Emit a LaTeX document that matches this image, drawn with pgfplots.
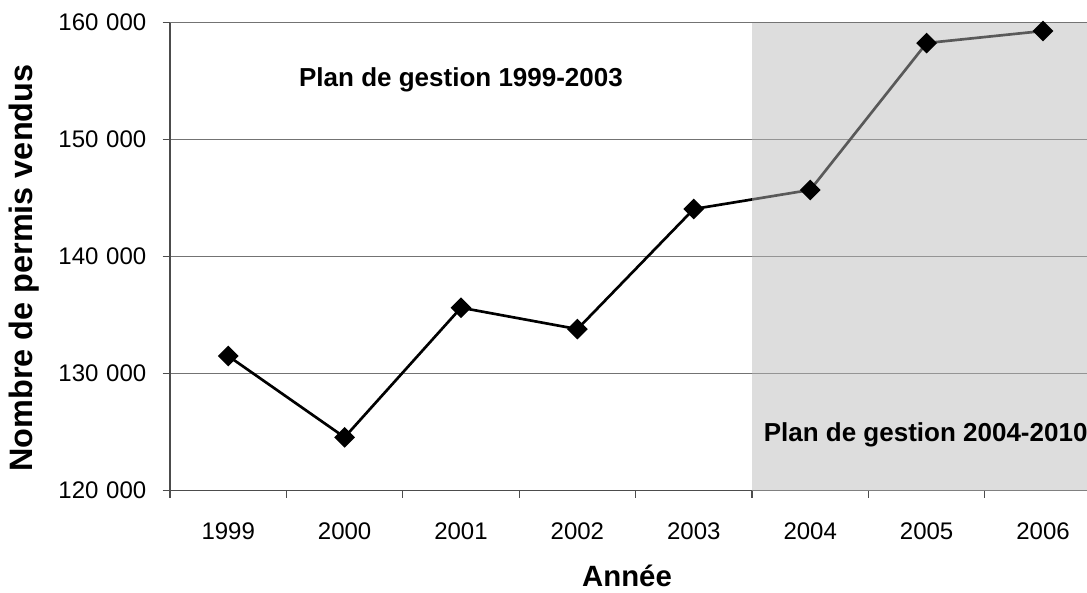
\documentclass[border=0pt]{standalone}
\usepackage{fontspec}
\setmainfont{Liberation Sans}
\usepackage{pgfplots}
\pgfplotsset{compat=1.18}
\newcommand{\tlf}{\fontsize{18pt}{22pt}\selectfont}
\newcommand{\ts}{\hspace{0.32em}}
\begin{document}
\begin{tikzpicture}
\useasboundingbox (-127.5pt,-76.125pt) rectangle (687.75pt,367.875pt);
\clip (-127.5pt,-76.125pt) rectangle (687.75pt,367.875pt);
\begin{axis}[
  at={(0pt,0pt)}, anchor=south west,
  scale only axis, width=687.75pt, height=350.85pt,
  xmin=-0.5, xmax=7.378, ymin=120000, ymax=160000,
  enlargelimits=false, scaled y ticks=false,
  axis x line=bottom, axis y line=left,
  axis line style={-, black!70, line width=1pt},
  xtick={-0.5,0.5,1.5,2.5,3.5,4.5,5.5,6.5},
  xticklabels={},
  extra x ticks={0,1,2,3,4,5,6,7},
  extra x tick labels={1999,2000,2001,2002,2003,2004,2005,2006},
  extra x tick style={grid=none, tick style={draw=none}},
  ytick={120000,130000,140000,150000,160000},
  yticklabels={120\ts000,130\ts000,140\ts000,150\ts000,160\ts000},
  tick align=outside, major tick length=5.6pt,
  tick style={black!70, line width=0.8pt},
  ymajorgrids, grid style={black!55, line width=0.75pt},
  yticklabel style={anchor=east, inner sep=0pt, xshift=-12pt, font=\tlf},
  xticklabel style={anchor=base, inner sep=0pt, yshift=-31.5pt, font=\tlf},
  xlabel={Année},
  ylabel={Nombre de permis vendus},
  xlabel style={at={(axis description cs:0.4984,-0.2056)}, anchor=base, inner sep=0pt, font=\bfseries\fontsize{22pt}{26pt}\selectfont},
  ylabel style={at={(axis description cs:-0.1494,0.4756)}, anchor=base, inner sep=0pt, font=\bfseries\fontsize{24.3pt}{28pt}\selectfont},
]
\addplot[black, line width=2pt, mark=square*, mark size=4.5pt, mark options={rotate=45, solid}] coordinates {
  (0,131500) (1,124550) (2,135630) (3,133800) (4,144070) (5,145700) (6,158260) (7,159290)
};
\fill[black!27.5, fill opacity=0.483] (axis cs:4.5,120000) rectangle (axis cs:7.378,160000);
\node[anchor=base, inner sep=0pt, font=\bfseries\fontsize{19.5pt}{23pt}\selectfont] at (axis cs:2,154530) {Plan de gestion 1999-2003};
\node[anchor=base west, inner sep=0pt, font=\bfseries\fontsize{19.5pt}{23pt}\selectfont] at (axis cs:4.599,124170) {Plan de gestion 2004-2010};
\end{axis}
\end{tikzpicture}
\end{document}
